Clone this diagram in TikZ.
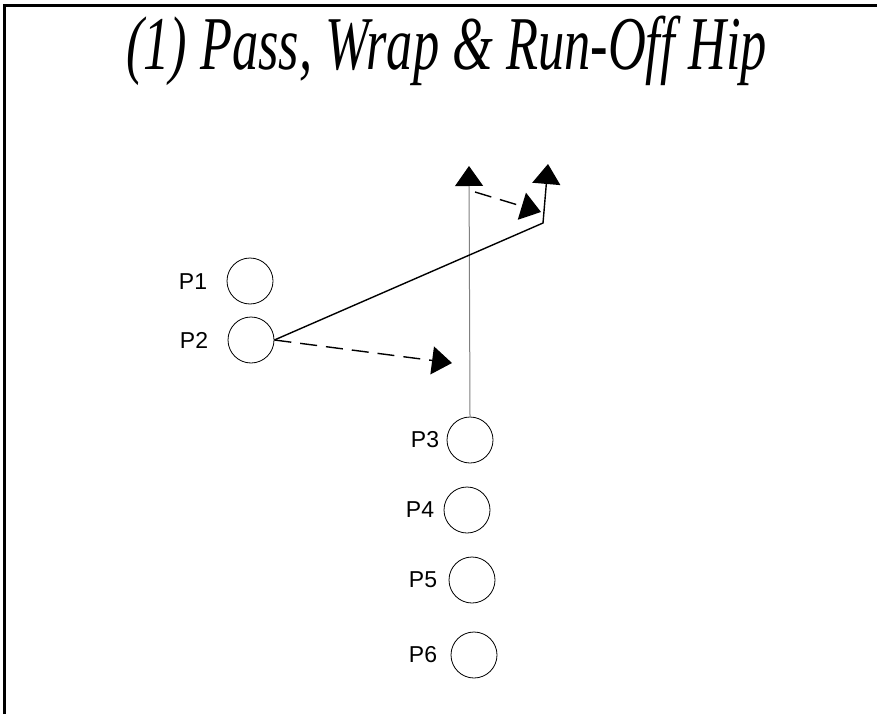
\documentclass[tikz,border=0pt]{standalone}
\usepackage{fontspec}
\setmainfont{Liberation Serif}
\newfontfamily\labelfont{Liberation Sans}
\usetikzlibrary{arrows.meta}
\begin{document}
\begin{tikzpicture}[x=1pt,y=-1pt,
  player/.style={circle,draw,line width=0.8pt,minimum size=46pt,inner sep=0pt},
  tag/.style={font=\labelfont\fontsize{23}{26}\selectfont,inner sep=0pt},
  tip/.style={-{Triangle[length=20pt,width=28pt,color=black]}},
  route/.style={tip,line width=1.4pt,line join=miter},
  motion/.style={tip,line width=1.4pt,dash pattern=on 17pt off 9pt},
  track/.style={tip,line width=1pt,draw=black!50}]
\useasboundingbox (0,0) rectangle (877,714);
% frame: top and left edges only
\draw[line width=3pt] (4,714) -- (4,6) -- (877,6);
% title
\node[anchor=base,inner sep=0pt] (title) at (446.5,70)
  {\scalebox{0.69}[1]{\itshape\fontsize{76}{86}\selectfont (1) Pass, Wrap \& Run-Off Hip}};
% players
\node[player] (p1) at (250,281) {};
\node[player] (p2) at (251,340) {};
\node[player] (p3) at (470,440) {};
\node[player] (p4) at (467,510) {};
\node[player] (p5) at (472,580) {};
\node[player] (p6) at (474,655) {};
\node[tag] (l1) at (193,282) {P1};
\node[tag] (l2) at (194,340) {P2};
\node[tag] (l3) at (425,440) {P3};
\node[tag] (l4) at (420,510) {P4};
\node[tag] (l5) at (423,580) {P5};
\node[tag] (l6) at (423,655) {P6};
% route ends
\coordinate (p3end) at (469,166);
\coordinate (bend) at (543,223);
\coordinate (p2end) at (548,164);
\coordinate (wrapstart) at (475,192);
\coordinate (wrapend) at (541,212);
\coordinate (passend) at (452,363);
% routes
\draw[track] (p3.north) -- (p3end);
\draw[route] (p2.east) -- (bend) -- (p2end);
\draw[motion] (wrapstart) -- (wrapend);
\draw[motion] (p2.east) -- (passend);
\end{tikzpicture}
\end{document}
